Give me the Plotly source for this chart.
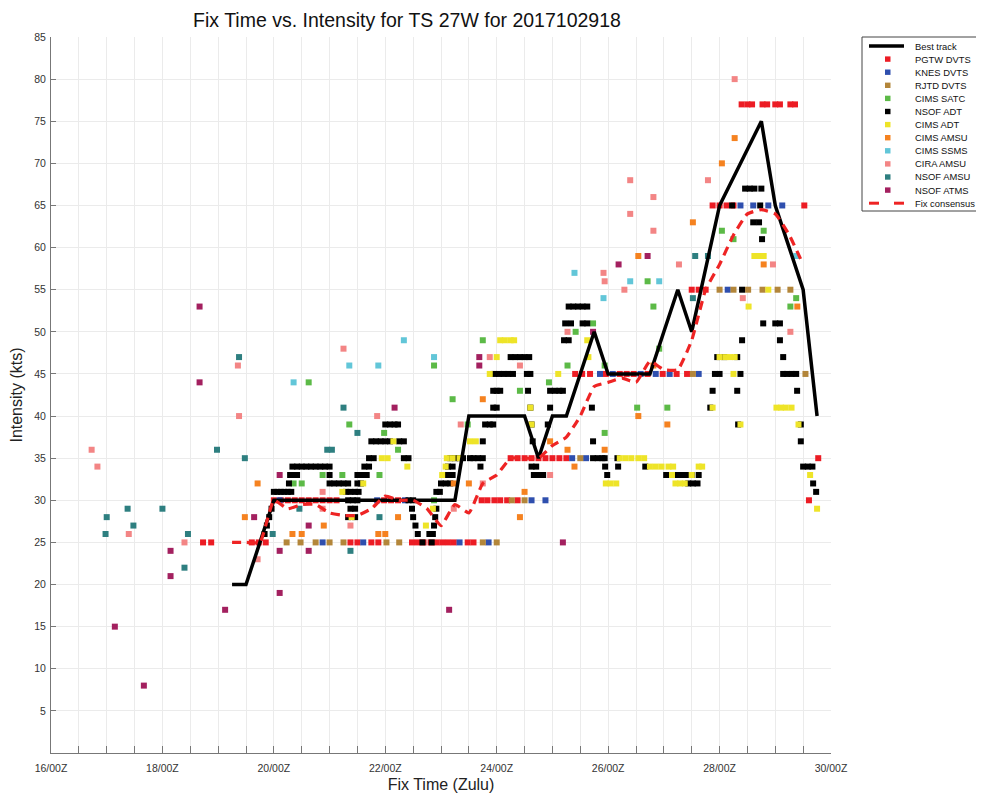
import plotly.graph_objects as go

# ---------------- DATA (hours after 16/00Z, intensity in kts) ----------------
best_hours = [78, 84, 90, 96, 102, 108, 114, 120, 126, 132, 138, 144, 150, 156, 162, 168, 174,
              180, 186, 192, 198, 204, 210, 216, 222, 228, 234, 240, 246, 252, 258, 264, 270, 276,
              288, 306, 312, 318, 324, 330]
best_kts = [20, 20, 25, 30, 30, 30, 30, 30, 30, 30, 30, 30, 30, 30, 30, 30, 30,
            40, 40, 40, 40, 40, 35, 40, 40, 45, 50, 45, 45, 45, 45, 50, 55, 50,
            65, 75, 65, 60, 55, 40]

cons_hours = [78, 84, 90, 96, 102, 108, 114, 120, 126, 132, 138, 144, 150, 156, 162, 168, 174,
              180, 186, 192, 198, 204, 210, 216, 222, 228, 234, 240, 246, 252, 258, 264, 270,
              276, 282, 288, 294, 300, 306, 312, 318, 324]
cons_kts = [25, 25, 25, 30, 29, 29.5, 29.5, 28.5, 28.2, 28.2, 29, 30.5, 30, 30, 29, 27, 29.5,
            28.5, 32, 33, 35, 35, 35, 36.5, 37.5, 40, 43.5, 44, 44.5, 44, 46.5, 45.5, 45.5,
            49, 55, 58, 61.5, 64, 64.5, 64, 61.5, 58]

pgtw_dvts = [(65.5, 25), (69, 25), (86.5, 25), (89.5, 25), (92.5, 25),
             (96, 30), (99, 30), (102, 30), (105, 30), (108, 30), (111, 30), (114, 30), (117, 30),
             (120, 30), (123, 30), (143.5, 30), (146.5, 30), (149.5, 30),
             (129, 25), (132, 25), (138, 25), (141, 25), (155.5, 25), (158, 25), (160.5, 25),
             (163.5, 25), (166, 25), (168.5, 25), (171, 25), (173.5, 25), (179.5, 25), (182, 25),
             (185.5, 30), (188, 30), (191, 30), (193.5, 30), (196.5, 30), (201, 30),
             (198, 35), (201, 35), (204, 35), (207, 35), (210, 35), (213, 35), (216, 35), (219, 35), (222, 35),
             (225.8, 45), (228.8, 45), (232.2, 45), (239, 45), (245, 45), (248, 45), (251, 45), (257, 45),
             (263.5, 45), (269.5, 45), (274, 45),
             (276, 55), (279, 55), (282, 55),
             (285, 65), (288, 65), (291, 65), (294, 65), (324.5, 65),
             (297.5, 77), (300, 77), (302, 77), (306.5, 77), (308.5, 77), (312, 77), (314, 77),
             (318.5, 77), (320.5, 77),
             (326.5, 30), (330.5, 35)]

knes_dvts = [(98.5, 30), (140.5, 30), (152.5, 30), (117, 25), (134.5, 25), (176, 25), (188.5, 25),
             (207, 30), (213, 30), (224.5, 35), (230.5, 35), (236.5, 45), (242, 45), (254, 45),
             (260.5, 45), (266.5, 45), (279, 45), (291.5, 55), (297, 65), (302.5, 65), (309, 65), (315, 65)]

rjtd_dvts = [(101.5, 25), (107.5, 25), (114, 25), (120, 25), (126, 25), (144.5, 25), (150, 25),
             (186, 25), (192, 25), (198.5, 30), (204, 30), (228, 35), (276.5, 45), (325, 45),
             (288, 55), (294, 55), (300.3, 55), (306.5, 55), (313, 55), (318.5, 55)]

cims_satc = [(104.5, 32), (108, 32), (111, 44), (117, 33), (125.5, 33), (128.5, 39), (141.5, 33),
             (143.5, 38), (149.5, 36), (165, 46), (165, 30), (173, 42), (179.5, 39), (186, 49),
             (202, 43), (214.5, 44), (222.5, 46), (226, 50), (233.5, 51), (238.5, 46), (238.5, 38),
             (252.5, 41), (257, 56), (259.5, 53), (262, 48), (265.5, 41), (289, 62), (294, 61),
             (307, 62), (321, 54), (318.5, 53)]

nsof_adt = [(92, 26), (93, 27), (94, 28), (95, 29),
            (96, 31), (97.5, 31), (99, 31), (100.5, 31), (102, 31), (103.5, 31), (102.5, 32),
            (103, 33), (104.5, 33), (106, 33),
            (104, 34), (106, 34), (108, 34), (110, 34), (112, 34), (114, 34), (116, 34), (118, 34), (120, 34),
            (120, 33), (120, 32), (122, 32), (124, 32), (126, 32), (128, 32),
            (127, 31), (129, 31), (128, 30), (130, 30), (132, 30), (129, 29), (131, 29), (128, 28), (131, 28),
            (131, 31), (132.5, 31), (132, 32), (133.5, 32), (132, 33), (134, 33), (136, 33),
            (135, 34), (137, 34), (137, 35), (139, 35),
            (138, 37), (140, 37), (142, 37), (144, 37), (146, 37),
            (144, 39), (146, 39), (148, 39), (149.5, 39), (150, 37), (152, 37), (152, 35), (154, 35),
            (154, 30), (156, 30), (155.5, 29), (156, 28), (157, 27), (158, 26), (160, 25), (164, 25),
            (163, 26), (164.5, 26), (165, 27), (165.5, 28), (166, 29),
            (166, 31), (167.5, 31), (168, 32), (170, 32), (172, 32), (169, 33), (171, 33), (173, 33),
            (171, 34), (173, 34), (172, 35), (174, 35), (176, 35), (177.5, 35),
            (180.5, 35), (182, 35), (184, 35), (186, 35), (185, 34), (186, 37),
            (187, 39), (189, 39), (190.5, 39), (190.5, 41), (192, 41), (190.5, 43), (192, 43), (193.5, 43),
            (191, 45), (193, 45), (195, 45), (197, 45), (199, 45),
            (198, 47), (200, 47), (202, 47), (204, 47), (206, 47), (205, 45), (206.5, 45),
            (205.5, 43), (206.5, 41), (207, 39), (207.5, 37), (207, 34), (209, 34),
            (208, 33), (210, 33), (212, 33), (214, 39), (215, 41),
            (215, 43), (217, 43), (219, 43), (220.5, 43), (221, 49), (223, 49), (221.5, 51), (224, 51),
            (223, 53), (225, 53), (227, 53), (229, 53), (231, 53), (229, 51), (231, 51),
            (233, 41), (233.5, 37), (233.5, 35), (235.5, 35), (237.5, 35), (238.5, 35),
            (238.7, 34), (239.6, 33), (244.3, 34), (244, 35), (256, 34),
            (265, 33), (270, 33), (272, 33), (274, 33), (276, 33), (279, 33),
            (274.5, 32), (276.5, 32), (278.5, 32),
            (285, 43), (284, 41), (286, 45), (288, 45), (287, 47), (290, 47), (295.6, 47),
            (295.6, 43), (296, 39), (297, 45), (297.7, 49), (297.7, 55),
            (293.4, 65), (299, 67), (301, 67), (303, 67), (306, 67), (302.5, 63), (305, 63), (306.3, 61), (305.5, 65),
            (306.8, 51), (312, 51), (314, 51), (314, 49), (315.4, 47),
            (315.4, 45), (317, 45), (319, 45), (321, 45), (321.4, 43), (323, 39), (323, 37),
            (324, 34), (326, 34), (328, 34), (328.3, 32), (329.6, 31)]

cims_adt = [(125.5, 31), (129.5, 28), (134.5, 32), (142.5, 35), (145, 35), (147.5, 37), (153.5, 34),
            (161.5, 27), (164.5, 29), (168.5, 33), (170, 34), (170.5, 35), (173, 35), (176, 35),
            (180.5, 37), (183, 37), (189, 45), (192, 47), (193.5, 49), (195.5, 49), (198, 49), (199.5, 49),
            (206.5, 41), (207, 39), (218.5, 45), (231, 49), (231.5, 47),
            (239, 32), (241, 32), (243.5, 32), (245, 35), (247.5, 35), (250, 35), (253, 35), (255.5, 35),
            (258, 34), (260.5, 34), (263, 34), (266, 34), (268, 34), (267.5, 33), (276, 33),
            (269, 32), (271, 32), (273, 32), (279, 34), (280.5, 34), (285, 41),
            (288, 47), (290.5, 47), (292.5, 47), (294.5, 47), (294, 45), (297, 39), (300.5, 53),
            (303, 59), (305, 59), (307, 59), (309, 55), (312.5, 41), (314.5, 41), (316.5, 41), (319, 41),
            (322, 39), (327, 33), (330, 29)]

cims_amsu = [(83.5, 28), (89, 32), (104, 26), (108, 26), (117.5, 27), (141, 26), (144, 26), (149.5, 28),
             (173.5, 32), (180, 32), (186, 42), (202, 28), (204, 31), (215, 37), (222.5, 36), (225.5, 34),
             (238.5, 36), (253, 59), (253, 40), (259.5, 46), (265.5, 39), (276.5, 63), (289, 70),
             (294.5, 73), (307, 58), (321.5, 53)]

cims_ssms = [(104.5, 44), (128.5, 46), (141, 46), (152, 49), (165, 47), (225.5, 57), (238, 54),
             (249.5, 56), (262, 56), (321, 59)]

cira_amsu = [(17.5, 36), (20, 34), (33.5, 26), (57.5, 25), (80.5, 46), (81, 40), (89, 23), (117, 31),
             (117, 29), (126, 48), (129, 27), (140.5, 40), (173.5, 29), (176.5, 39), (186, 32), (189, 47),
             (202, 46), (215, 33), (222.5, 50), (238, 57), (238.5, 56), (247, 55), (249.5, 68), (259.5, 66),
             (249.5, 64), (259.5, 62), (270.5, 58), (283, 68), (294.5, 80), (298, 54), (311, 58), (318.5, 50)]

nsof_amsu = [(23.5, 26), (24, 28), (33, 29), (35.5, 27), (48, 29), (57.5, 22), (59, 26), (71.5, 36),
             (81, 47), (83.5, 35), (95.5, 26), (107, 29), (119, 36), (121, 36), (126, 41), (132, 38),
             (129, 24), (141.5, 28), (277.5, 59), (283, 59), (276.5, 54)]

nsof_atms = [(27.5, 15), (40, 8), (51.5, 24), (51.5, 21), (64, 44), (64, 53), (75, 17), (87.5, 28),
             (98.5, 33), (98.5, 24), (98.5, 19), (111, 27), (111, 24), (148, 41), (171.5, 17),
             (184.5, 47), (184.5, 46), (220.5, 25), (233.5, 50), (244.5, 58), (257, 59)]

tick_hours = list(range(0, 337, 12))
tick_labels = [f"{16 + h // 24}/00Z" if h % 48 == 0 else "" for h in tick_hours]
y_ticks = list(range(5, 86, 5))

fix_series = [
    ("PGTW DVTS", pgtw_dvts, "#ec1c24"),
    ("KNES DVTS", knes_dvts, "#2f4fae"),
    ("RJTD DVTS", rjtd_dvts, "#b3863a"),
    ("CIMS SATC", cims_satc, "#5cba47"),
    ("NSOF ADT", nsof_adt, "#000000"),
    ("CIMS ADT", cims_adt, "#eee428"),
    ("CIMS AMSU", cims_amsu, "#f58220"),
    ("CIMS SSMS", cims_ssms, "#62c6d8"),
    ("CIRA AMSU", cira_amsu, "#f38585"),
    ("NSOF AMSU", nsof_amsu, "#2e7f80"),
    ("NSOF ATMS", nsof_atms, "#a3205f"),
]

# ---------------- FIGURE ----------------
# page has an 8px body margin: figure origin is at page (8, 8)
OFF = 8
W, H = 984 - OFF, 793 - OFF
PL, PR, PT, PB = 51, 831, 37, 753          # plot area in page pixels
L, R, T, B = PL - OFF, W - (PR - OFF), PT - OFF, H - (PB - OFF)
FONT = "Liberation Sans, Arial, Helvetica, sans-serif"

fig = go.Figure()
for name, pts, col in fix_series:
    fig.add_trace(go.Scatter(
        x=[p[0] for p in pts], y=[p[1] for p in pts], mode="markers", name=name,
        marker=dict(symbol="square", size=6, color=col, line=dict(width=0)),
        showlegend=False))

fig.add_trace(go.Scatter(x=best_hours, y=best_kts, mode="lines", name="Best track",
                         line=dict(color="black", width=3.5), showlegend=False))
fig.add_trace(go.Scatter(x=cons_hours, y=cons_kts, mode="lines", name="Fix consensus",
                         line=dict(color="#ee2424", width=3.2, dash="9px,6px", shape="spline", smoothing=0.4),
                         showlegend=False))


def px(xp):
    return (xp - PL) / (PR - PL)


def py(yp):
    return (PB - yp) / (PB - PT)


shapes = [dict(type="rect", xref="paper", yref="paper", x0=px(862), x1=px(983), y0=py(37), y1=py(211),
               line=dict(color="#444", width=1), fillcolor="white", layer="above")]
annotations = []
legend_items = [("Best track", "black", "line")] + [(n, c, "sq") for n, _, c in fix_series] + \
               [("Fix consensus", "#ee2424", "dash")]
for i, (name, col, kind) in enumerate(legend_items):
    yy = 46 + i * 13.1
    if kind == "line":
        shapes.append(dict(type="line", xref="paper", yref="paper", x0=px(869), x1=px(904),
                           y0=py(yy), y1=py(yy), line=dict(color=col, width=3.5), layer="above"))
    elif kind == "dash":
        for a, b in [(869, 879), (894, 904)]:
            shapes.append(dict(type="line", xref="paper", yref="paper", x0=px(a), x1=px(b),
                               y0=py(yy), y1=py(yy), line=dict(color=col, width=3), layer="above"))
    else:
        shapes.append(dict(type="rect", xref="paper", yref="paper", x0=px(885), x1=px(890.5),
                           y0=py(yy - 2.7), y1=py(yy + 2.7), line=dict(width=0), fillcolor=col,
                           layer="above"))
    annotations.append(dict(xref="paper", yref="paper", x=px(913), y=py(yy), xanchor="left",
                            yanchor="middle", text=name, showarrow=False,
                            font=dict(size=9.4, color="#111", family=FONT)))

fig.update_layout(
    width=W, height=H, margin=dict(l=L, r=R, t=T, b=B, autoexpand=False),
    paper_bgcolor="white", plot_bgcolor="white",
    font=dict(family=FONT, color="#222"),
    title=dict(text="Fix Time vs. Intensity for TS 27W for 2017102918", x=(407 - OFF) / W, xref="container",
               xanchor="center", y=1 - (20 - OFF) / H, yanchor="middle", font=dict(size=19.5, color="#111")),
    xaxis=dict(range=[0, 336], tickvals=tick_hours, ticktext=tick_labels, showgrid=True, automargin=False,
               gridcolor="#ebebeb", gridwidth=1, zeroline=False, showline=True, linecolor="#777",
               ticks="inside", ticklen=7, tickcolor="#777", tickfont=dict(size=10.5, color="#333"),
               ticklabelstandoff=5,
               title=dict(text="Fix Time (Zulu)", font=dict(size=16, color="#222"), standoff=12)),
    yaxis=dict(range=[0, 85], tickvals=y_ticks, showgrid=True, gridcolor="#ebebeb", gridwidth=1,
               automargin=False,
               zeroline=False, showline=True, linecolor="#777", ticks="inside", ticklen=5,
               tickcolor="#777", tickfont=dict(size=10.5, color="#333"), ticklabelstandoff=2,
               title=dict(text="Intensity (kts)", font=dict(size=16, color="#222"), standoff=12)),
    shapes=shapes, annotations=annotations, showlegend=False,
)

fig.write_html("out.html")
